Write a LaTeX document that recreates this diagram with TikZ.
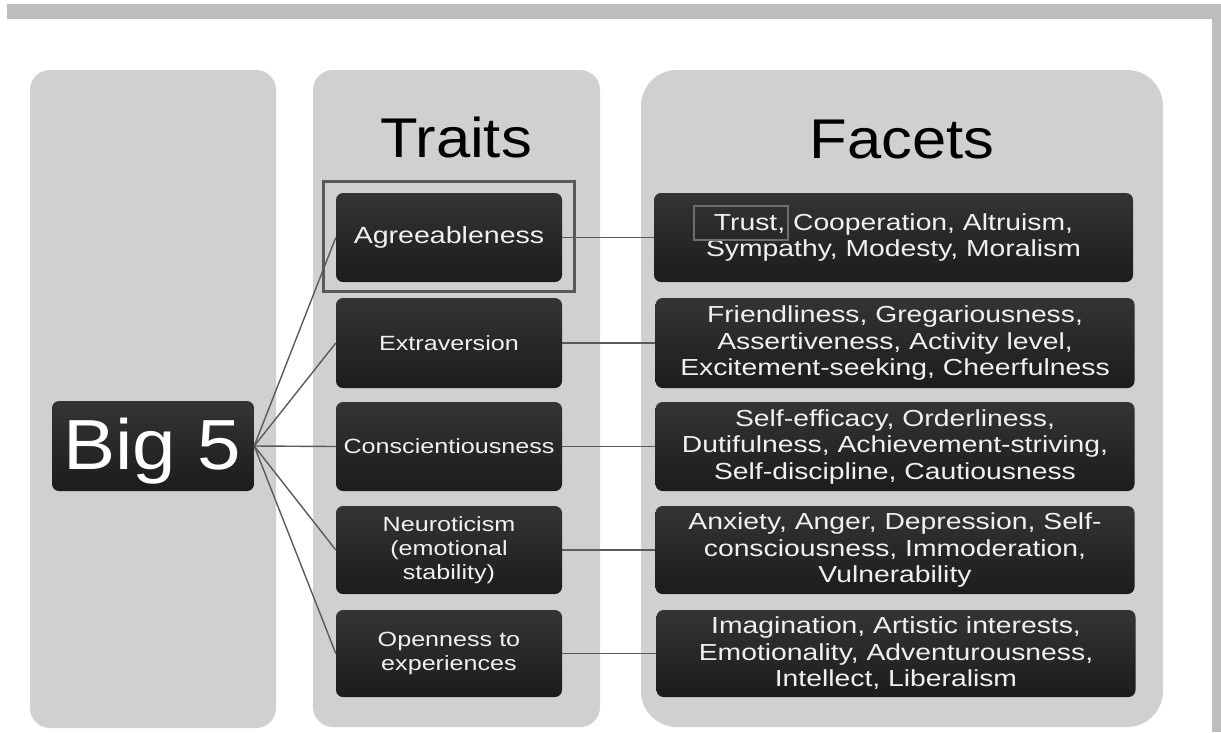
\documentclass[tikz,border=0pt]{standalone}
\usepackage{fontspec}
\setmainfont{Liberation Sans}
\newfontfamily\headfont{Liberation Sans}[FakeStretch=1.1]
\newfontfamily\boxfont{Liberation Sans}[FakeStretch=1.22]
\definecolor{panelgray}{HTML}{D0D0D0}
\definecolor{bargray}{HTML}{BDBDBD}
\definecolor{linegray}{HTML}{5A5A5A}
\definecolor{boxtop}{HTML}{343434}
\definecolor{boxbot}{HTML}{1C1C1C}
\definecolor{boxtext}{HTML}{F0F0F0}
\definecolor{markgray}{HTML}{6E6E6E}
\begin{document}
\begin{tikzpicture}[x=1pt,y=-1pt,
  panel/.style={fill=panelgray, draw=none},
  darkbox/.style={rounded corners=7pt, top color=boxtop, bottom color=boxbot, draw=none, text=boxtext, align=center, inner sep=0pt},
  traitbox/.style={darkbox, minimum width=226pt, font=\boxfont\fontsize{20.6}{24}\selectfont},
  facetbox/.style={darkbox, minimum width=479pt, font=\boxfont\fontsize{23.2}{26.5}\selectfont},
  headtext/.style={font=\headfont\fontsize{56}{60}\selectfont, text=black, anchor=base, inner sep=0pt},
  link/.style={draw=linegray, line width=1.4pt},
]
\useasboundingbox (0,0) rectangle (1221,732);
\fill[white] (0,0) rectangle (1221,732);
% border bars
\fill[bargray] (7,4) rectangle (1221,19);
\fill[bargray] (1212,4) rectangle (1221,732);
% panels
\fill[panel, rounded corners=20pt] (30,70) rectangle (276,728);
\fill[panel, rounded corners=20pt] (313,70) rectangle (600,727);
\fill[panel, rounded corners=36pt] (641,70) rectangle (1163,727);
% headings
\node[headtext] (traits) at (456,157) {Traits};
\node[headtext] (facets) at (902,158) {Facets};
% highlight frame
\node[draw=linegray, line width=3pt, minimum width=251pt, minimum height=110pt, inner sep=0pt] (hl) at (448.5,236) {};
% Big 5
\node[darkbox, minimum width=202pt, minimum height=90pt] (big) at (153,446) {};
\node[font=\headfont\fontsize{71}{71}\selectfont, text=white, anchor=base, inner sep=0pt] (bigtxt) at (152.5,469) {Big 5};
% trait boxes
\node[traitbox, minimum height=89pt, font=\boxfont\fontsize{23.4}{26}\selectfont] (t1) at (449,237.5) {Agreeableness};
\node[traitbox, minimum height=90pt] (t2) at (449,343) {Extraversion};
\node[traitbox, minimum height=89pt] (t3) at (449,446.5) {Conscientiousness};
\node[traitbox, minimum height=88pt] (t4) at (449,550) {Neuroticism\\(emotional\\stability)};
\node[traitbox, minimum height=87pt] (t5) at (449,653.5) {Openness to\\experiences};
% facet boxes
\node[facetbox, minimum height=89pt] (f1) at (893.5,237.5) {Trust, Cooperation, Altruism,\\Sympathy, Modesty, Moralism};
\node[facetbox, minimum height=90pt] (f2) at (895,343) {Friendliness, Gregariousness,\\Assertiveness, Activity level,\\Excitement-seeking, Cheerfulness};
\node[facetbox, minimum height=89pt] (f3) at (895,446.5) {Self-efficacy, Orderliness,\\Dutifulness, Achievement-striving,\\Self-discipline, Cautiousness};
\node[facetbox, minimum height=88pt] (f4) at (895,550) {Anxiety, Anger, Depression, Self-\\consciousness, Immoderation,\\Vulnerability};
\node[facetbox, minimum height=87pt] (f5) at (896,653.5) {Imagination, Artistic interests,\\Emotionality, Adventurousness,\\Intellect, Liberalism};
% Trust marker
\node[draw=markgray, line width=1.5pt, minimum width=94pt, minimum height=34pt, inner sep=0pt] (trustmark) at (741,223) {};
% connectors
\foreach \i in {1,...,5} {
  \draw[link] (big.east) -- (t\i.west);
  \draw[link] (t\i.east) -- (f\i.west);
}
\end{tikzpicture}
\end{document}
